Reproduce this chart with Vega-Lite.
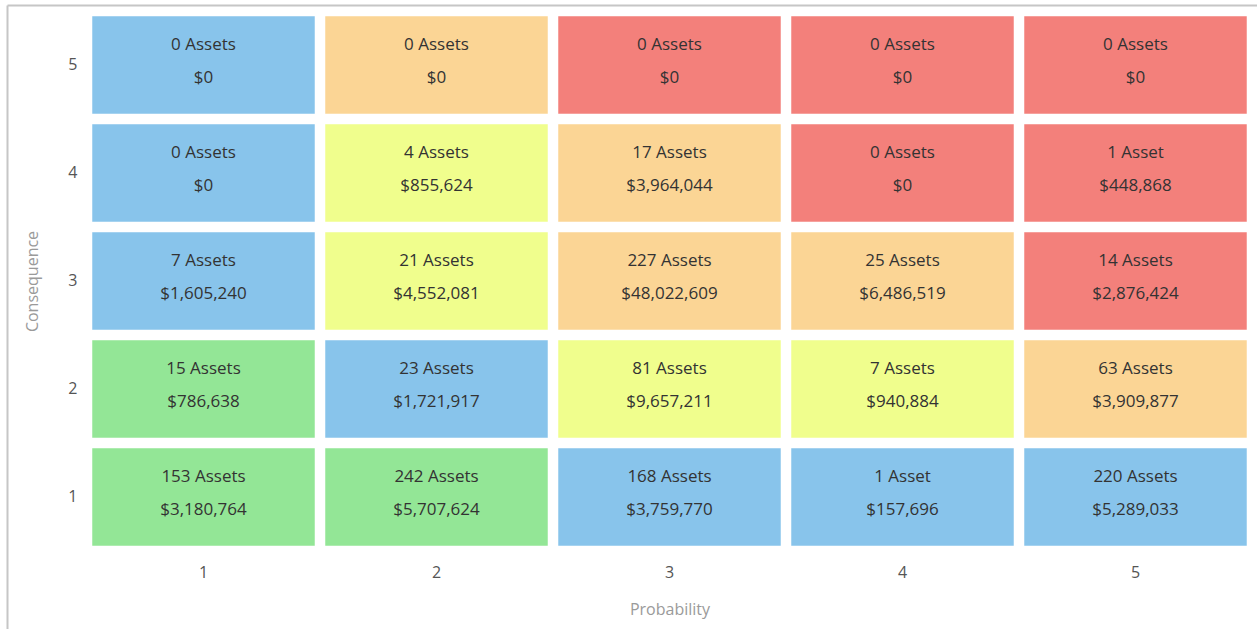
{
  "$schema": "https://vega.github.io/schema/vega-lite/v6.json",
  "width": 1250,
  "height": 624,
  "autosize": {"type": "none"},
  "padding": {"left": 7, "top": 5, "right": 0, "bottom": 0},
  "background": "white",
  "config": {"font": "Open Sans", "view": {"stroke": null}},
  "data": {
    "values": [
      {"probability": 1, "consequence": 5, "level": "blue", "assets": "0 Assets", "cost": 0},
      {"probability": 2, "consequence": 5, "level": "orange", "assets": "0 Assets", "cost": 0},
      {"probability": 3, "consequence": 5, "level": "red", "assets": "0 Assets", "cost": 0},
      {"probability": 4, "consequence": 5, "level": "red", "assets": "0 Assets", "cost": 0},
      {"probability": 5, "consequence": 5, "level": "red", "assets": "0 Assets", "cost": 0},
      {"probability": 1, "consequence": 4, "level": "blue", "assets": "0 Assets", "cost": 0},
      {"probability": 2, "consequence": 4, "level": "yellow", "assets": "4 Assets", "cost": 855624},
      {"probability": 3, "consequence": 4, "level": "orange", "assets": "17 Assets", "cost": 3964044},
      {"probability": 4, "consequence": 4, "level": "red", "assets": "0 Assets", "cost": 0},
      {"probability": 5, "consequence": 4, "level": "red", "assets": "1 Asset", "cost": 448868},
      {"probability": 1, "consequence": 3, "level": "blue", "assets": "7 Assets", "cost": 1605240},
      {"probability": 2, "consequence": 3, "level": "yellow", "assets": "21 Assets", "cost": 4552081},
      {"probability": 3, "consequence": 3, "level": "orange", "assets": "227 Assets", "cost": 48022609},
      {"probability": 4, "consequence": 3, "level": "orange", "assets": "25 Assets", "cost": 6486519},
      {"probability": 5, "consequence": 3, "level": "red", "assets": "14 Assets", "cost": 2876424},
      {"probability": 1, "consequence": 2, "level": "green", "assets": "15 Assets", "cost": 786638},
      {"probability": 2, "consequence": 2, "level": "blue", "assets": "23 Assets", "cost": 1721917},
      {"probability": 3, "consequence": 2, "level": "yellow", "assets": "81 Assets", "cost": 9657211},
      {"probability": 4, "consequence": 2, "level": "yellow", "assets": "7 Assets", "cost": 940884},
      {"probability": 5, "consequence": 2, "level": "orange", "assets": "63 Assets", "cost": 3909877},
      {"probability": 1, "consequence": 1, "level": "green", "assets": "153 Assets", "cost": 3180764},
      {"probability": 2, "consequence": 1, "level": "green", "assets": "242 Assets", "cost": 5707624},
      {"probability": 3, "consequence": 1, "level": "blue", "assets": "168 Assets", "cost": 3759770},
      {"probability": 4, "consequence": 1, "level": "blue", "assets": "1 Asset", "cost": 157696},
      {"probability": 5, "consequence": 1, "level": "blue", "assets": "220 Assets", "cost": 5289033}
    ]
  },
  "encoding": {
    "y": {
      "field": "consequence", "type": "ordinal", "sort": "descending",
      "scale": {"type": "band", "paddingInner": 0.0925926, "paddingOuter": 0.4351852, "align": 0.117021, "round": false},
      "axis": {
        "orient": "left", "domain": true, "domainColor": "#c6c6c6", "domainWidth": 2,
        "ticks": false, "grid": false,
        "labelPadding": -70, "labelFontSize": 16, "labelColor": "#555555",
        "title": "Consequence", "titleX": 25, "titleY": 276, "titleAngle": -90,
        "titleBaseline": "middle", "titleAlign": "center",
        "titleFontSize": 16, "titleFontWeight": "normal", "titleColor": "#9a9a9a"
      }
    }
  },
  "layer": [
    {
      "mark": {"type": "rect", "stroke": "white", "strokeWidth": 1, "strokeOpacity": 0.5},
      "encoding": {
        "x": {
          "field": "probability", "type": "ordinal",
          "scale": {"type": "band", "paddingInner": 0.0429185, "paddingOuter": 0.2038627, "align": 0.894737, "round": false},
          "axis": {
            "orient": "bottom", "domain": false, "ticks": false, "grid": false,
            "labelAngle": 0, "labelPadding": -57, "labelBaseline": "middle",
            "labelFontSize": 16, "labelColor": "#555555",
            "title": "Probability", "titleX": 662.5, "titleY": -20, "titleBaseline": "middle", "titleAlign": "center",
            "titleFontSize": 16, "titleFontWeight": "normal", "titleColor": "#9a9a9a"
          }
        },
        "color": {
          "field": "level", "type": "nominal", "legend": null,
          "scale": {
            "domain": ["green", "blue", "yellow", "orange", "red"],
            "range": ["#93e696", "#88c4eb", "#f0fe8d", "#fbd595", "#f3807b"]
          }
        }
      }
    },
    {
      "mark": {"type": "text", "dy": -20, "fontSize": 17, "color": "#333333", "baseline": "middle"},
      "encoding": {
        "x": {
          "field": "probability", "type": "ordinal",
          "axis": {
            "orient": "top", "domain": true, "domainColor": "#c6c6c6", "domainWidth": 2,
            "labels": false, "ticks": false, "grid": false, "title": null
          }
        },
        "text": {"field": "assets", "type": "nominal"}
      }
    },
    {
      "mark": {"type": "text", "dy": 13, "fontSize": 17, "color": "#333333", "baseline": "middle"},
      "encoding": {
        "x": {"field": "probability", "type": "ordinal", "axis": null},
        "text": {"field": "cost", "type": "quantitative", "format": "$,.0f"}
      }
    }
  ],
  "resolve": {"axis": {"x": "independent"}}
}
